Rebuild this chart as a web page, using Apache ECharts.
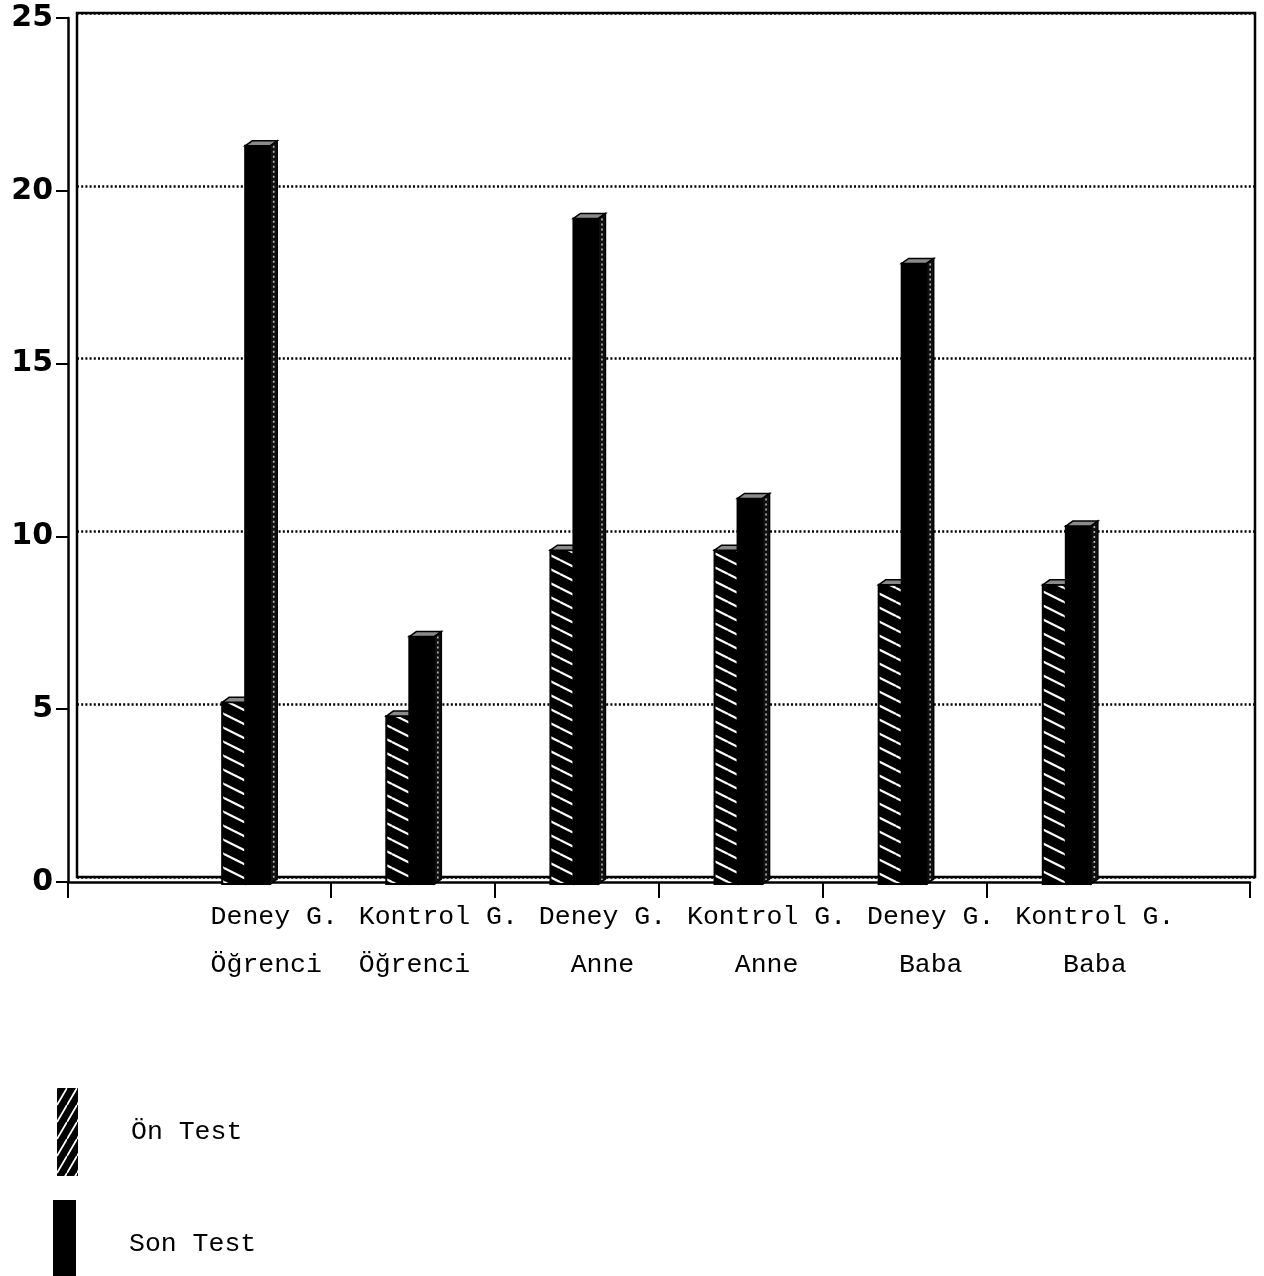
<!DOCTYPE html>
<html>
<head>
<meta charset="utf-8">
<title>Ön Test / Son Test</title>
<script src="https://cdn.jsdelivr.net/npm/echarts@6/dist/echarts.min.js"></script>
<style>
  html, body { margin: 0; padding: 0; background: #fff; }
  #chart { width: 1264px; height: 1276px; }
</style>
</head>
<body>
<div id="chart"></div>
<script>
// Group labels (two lines each)
const categories = [
  'Deney G.\nÖğrenci',
  'Kontrol G.\nÖğrenci',
  'Deney G.\nAnne',
  'Kontrol G.\nAnne',
  'Deney G.\nBaba',
  'Kontrol G.\nBaba'
];
// Mean scores
const onTest = [5.2, 4.8, 9.6, 9.6, 8.6, 8.6];
const sonTest = [21.3, 7.1, 19.2, 11.1, 17.9, 10.3];
// Value axis ticks
const yTicks = [0, 5, 10, 15, 20, 25];

const seriesNames = ['Ön Test', 'Son Test'];
const secondLineAlign = ['left', 'left', 'center', 'center', 'center', 'center'];

const FONT_MONO = '"Liberation Mono", "DejaVu Sans Mono", monospace';
const FONT_AXIS = '"DejaVu Sans", "Liberation Sans", sans-serif';

// Hatch tiles: black ground with thin white diagonal strokes
function hatchTile(w, h, down, lw) {
  const cv = document.createElement('canvas');
  cv.width = w; cv.height = h;
  const g = cv.getContext('2d');
  g.fillStyle = '#000';
  g.fillRect(0, 0, w, h);
  g.strokeStyle = '#fff';
  g.lineWidth = lw;
  for (let k = -1; k <= 1; k++) {
    g.beginPath();
    if (down) { g.moveTo(0, k * h); g.lineTo(w, k * h + h); }
    else { g.moveTo(0, k * h + h); g.lineTo(w, k * h); }
    g.stroke();
  }
  return cv;
}
const barHatch = { image: hatchTile(28, 14, true, 2.2), repeat: 'repeat' };
const legendHatch = { image: hatchTile(10, 17, false, 1.8), repeat: 'repeat' };

// Axis slots: one empty slot on each side of the six groups
const axisSlots = [''].concat(categories, ['']);

// Bar geometry relative to the slot centre (slot width 164 at full size)
const barGeom = [
  { left: -26, right: -2, front: barHatch },
  { left: -3, right: 22, front: '#000' }
];

function makeRender(idx) {
  return function (params, api) {
    const slot = api.value(0);
    const v = api.value(1);
    const band = api.size([1, 0])[0];
    const k = band / 164;
    const top = api.coord([slot, v]);
    const y0 = api.coord([slot, 0])[1];
    const geo = barGeom[idx];
    const L = top[0] + geo.left * k;
    const R = top[0] + geo.right * k;
    const yt = top[1];          // front face top
    const dx = 7 * k, dy = 5;   // depth of the 3D block
    return {
      type: 'group',
      children: [
        {
          type: 'rect',
          shape: { x: L, y: yt, width: R - L, height: y0 + 2 - yt },
          style: { fill: geo.front, stroke: '#000', lineWidth: 2 }
        },
        {
          type: 'polygon',
          shape: { points: [[L, yt], [L + dx, yt - dy], [R + dx, yt - dy], [R, yt]] },
          style: { fill: '#8a8a8a', stroke: '#000', lineWidth: 1.5 }
        },
        {
          type: 'polygon',
          shape: { points: [[R, yt], [R + dx, yt - dy], [R + dx, y0 - dy + 2], [R, y0 + 2]] },
          style: { fill: '#111', stroke: '#000', lineWidth: 1.5 }
        },
        {
          type: 'line',
          shape: { x1: R + dx * 0.5, y1: yt, x2: R + dx * 0.5, y2: y0 - 2 },
          style: { stroke: '#b5b5b5', lineWidth: 1.6, lineDash: [2, 3] }
        }
      ]
    };
  };
}

const chart = echarts.init(document.getElementById('chart'), null, { renderer: 'canvas' });

const labelRich = {
  t: { fontFamily: FONT_MONO, fontSize: 26.5, lineHeight: 48, color: '#000' },
  left: { fontFamily: FONT_MONO, fontSize: 26.5, lineHeight: 48, color: '#000', align: 'left' },
  center: { fontFamily: FONT_MONO, fontSize: 26.5, lineHeight: 48, color: '#000', align: 'center' }
};

function legendText(pad) {
  return { fontFamily: FONT_MONO, fontSize: 26.5, color: '#000', padding: pad };
}

chart.setOption({
  animation: false,
  backgroundColor: '#fff',
  grid: [
    // back wall with the dotted grid lines
    { left: 77, right: 9, top: 13, bottom: 399, show: true, borderColor: '#000', borderWidth: 2.5,
      backgroundColor: 'transparent', outerBoundsMode: 'none' },
    // front plane carrying the value axis and the floor edge
    { left: 68, right: 14, top: 18, bottom: 394, outerBoundsMode: 'none' },
    // group slots for the bars
    { left: 2, width: 1313, top: 18, bottom: 394, outerBoundsMode: 'none' }
  ],
  xAxis: [
    { gridIndex: 0, type: 'value', min: 0, max: 1, show: false },
    {
      gridIndex: 1, type: 'value', min: 0, max: 1, interval: 1,
      axisLine: { show: true, lineStyle: { color: '#000', width: 2.5 } },
      axisTick: { show: true, length: 16, lineStyle: { color: '#000', width: 2 } },
      axisLabel: { show: false },
      splitLine: { show: false }
    },
    {
      gridIndex: 2, type: 'category', data: axisSlots, boundaryGap: true,
      axisLine: { show: false },
      axisTick: {
        show: true, length: 16, lineStyle: { color: '#000', width: 2 },
        interval: function (i) { return i >= 2 && i <= categories.length; }
      },
      axisLabel: {
        interval: 0,
        margin: 11,
        padding: [0, 0, 0, 52],
        formatter: function (val, i) {
          if (!val) return '';
          const parts = val.split('\n');
          return '{t|' + parts[0] + '}\n{' + secondLineAlign[i - 1] + '|' + parts[1] + '}';
        },
        rich: labelRich
      }
    }
  ],
  yAxis: [
    {
      gridIndex: 0, type: 'value', min: yTicks[0], max: yTicks[yTicks.length - 1], interval: 5,
      axisLine: { show: false }, axisTick: { show: false }, axisLabel: { show: false },
      splitLine: { show: true, lineStyle: { color: '#000', width: 2.5, type: [2, 2.2] } }
    },
    {
      gridIndex: 1, type: 'value', min: yTicks[0], max: yTicks[yTicks.length - 1], interval: 5,
      axisLine: { show: true, lineStyle: { color: '#000', width: 2.5 } },
      axisTick: { show: true, length: 12, lineStyle: { color: '#000', width: 2 } },
      axisLabel: {
        margin: 15, color: '#000', fontFamily: FONT_AXIS, fontWeight: 'bold', fontSize: 30,
        customValues: yTicks
      },
      splitLine: { show: false }
    },
    {
      gridIndex: 2, type: 'value', min: yTicks[0], max: yTicks[yTicks.length - 1], interval: 5,
      show: false
    }
  ],
  legend: [
    {
      left: 52, top: 1083, itemWidth: 21, itemHeight: 88, icon: 'rect', selectedMode: false,
      textStyle: legendText([12, 0, 0, 48]),
      data: [{ name: seriesNames[0], itemStyle: { color: legendHatch, borderWidth: 0 } }]
    },
    {
      left: 48, top: 1195, itemWidth: 23, itemHeight: 88, icon: 'rect', selectedMode: false,
      textStyle: legendText([0, 0, 4, 48]),
      data: [{ name: seriesNames[1], itemStyle: { color: '#000', borderWidth: 0 } }]
    }
  ],
  series: [
    {
      name: seriesNames[0],
      type: 'custom',
      xAxisIndex: 2, yAxisIndex: 2,
      itemStyle: { color: '#000' },
      renderItem: makeRender(0),
      encode: { x: 0, y: 1 },
      data: onTest.map(function (v, i) { return [i + 1, v]; })
    },
    {
      name: seriesNames[1],
      type: 'custom',
      xAxisIndex: 2, yAxisIndex: 2,
      itemStyle: { color: '#000' },
      renderItem: makeRender(1),
      encode: { x: 0, y: 1 },
      data: sonTest.map(function (v, i) { return [i + 1, v]; })
    }
  ]
});
</script>
</body>
</html>
